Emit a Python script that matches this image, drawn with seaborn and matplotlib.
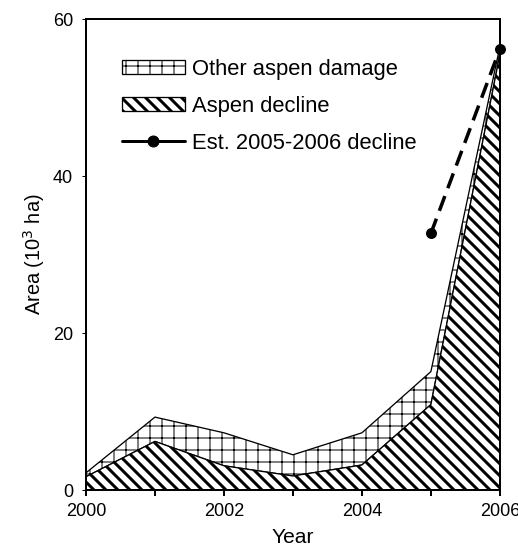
import numpy as np
import matplotlib
matplotlib.use('Agg')
import matplotlib.pyplot as plt
import seaborn as sns
from matplotlib.patches import Patch
from matplotlib.lines import Line2D

# data (10^3 ha)
years = [2000, 2001, 2002, 2003, 2004, 2005, 2006]
aspen_decline = [1.7, 6.2, 3.1, 1.8, 3.2, 10.9, 55.5]
other_damage = [0.5, 3.1, 4.2, 2.7, 4.1, 4.2, 1.0]
est_years = [2005, 2006]
est_decline = [32.7, 56.2]

sns.set_style('ticks')
plt.rcParams['font.family'] = ['Liberation Sans', 'DejaVu Sans']
plt.rcParams['hatch.color'] = 'black'
for k in ['text.color', 'axes.labelcolor', 'xtick.color', 'ytick.color',
          'axes.edgecolor']:
    plt.rcParams[k] = 'black'

total = np.array(aspen_decline) + np.array(other_damage)

fig = plt.figure(figsize=(518 / 72, 547 / 72), dpi=72)
ax = fig.add_axes([0.166, 0.104, 0.799, 0.861])

# stacked areas
with plt.rc_context({'hatch.linewidth': 1.0}):
    ax.fill_between(years, aspen_decline, total, facecolor='white',
                    edgecolor='black', hatch='+', linewidth=1.3)
with plt.rc_context({'hatch.linewidth': 3.0}):
    ax.fill_between(years, 0, aspen_decline, facecolor='white',
                    edgecolor='black', hatch='\\\\', linewidth=1.3)

# estimated decline line
sns.lineplot(x=est_years, y=est_decline, ax=ax, color='black', linewidth=3.5,
             dashes=False, marker='o', markersize=11, markeredgewidth=0,
             clip_on=False, zorder=5)
ax.lines[-1].set_dashes([4.5, 2.4])

ax.set_xlim(2000, 2006)
ax.set_ylim(0, 60)
ax.set_xticks([2000, 2002, 2004, 2006])
ax.set_xticks([2001, 2003, 2005], minor=True)
ax.set_yticks([0, 20, 40, 60])
ax.tick_params(axis='x', which='both', direction='out', length=6, width=2,
               labelsize=18, pad=7)
ax.tick_params(axis='y', direction='out', length=4, width=1,
               labelsize=18, pad=9)
for s in ax.spines.values():
    s.set_linewidth(2)
    s.set_visible(True)

ax.set_xlabel('Year', fontsize=21, labelpad=8)
ax.set_ylabel('Area (10$^3$ ha)', fontsize=20, labelpad=6)

h1 = Patch(facecolor='white', edgecolor='black', hatch='+', linewidth=1.3)
h2 = Patch(facecolor='white', edgecolor='black', hatch='\\\\', linewidth=1.3)
h3 = Line2D([0], [0], color='black', linewidth=3, marker='o', markersize=11)
leg = ax.legend([h1, h2, h3], ['Other aspen damage', 'Aspen decline',
                               'Est. 2005-2006 decline'],
                loc='upper left', bbox_to_anchor=(0.087, 0.916), frameon=False,
                borderpad=0, borderaxespad=0,
                fontsize=22, handlelength=2.85, handleheight=0.6,
                labelspacing=0.73, handletextpad=0.35)
for p, lw in zip(leg.get_patches(), [1.0, 3.0]):
    if hasattr(p, 'set_hatch_linewidth'):
        p.set_hatch_linewidth(lw)
    else:
        p._hatch_linewidth = lw

fig.savefig('out.png', dpi=72)
